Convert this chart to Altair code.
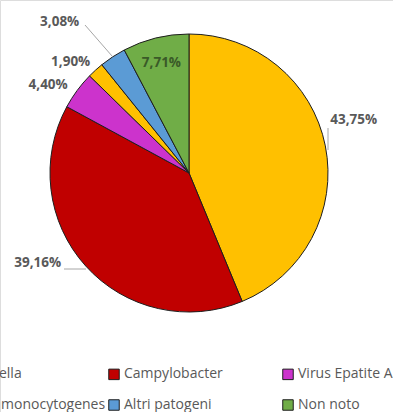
import altair as alt
import pandas as pd

categories = ["Salmonella", "Campylobacter", "Virus Epatite A",
              "Listeria monocytogenes", "Altri patogeni", "Non noto"]
values = [43.75, 39.16, 4.40, 1.90, 3.08, 7.71]
labels = ["43,75%", "39,16%", "4,40%", "1,90%", "3,08%", "7,71%"]
colors = ["#FFC000", "#C00000", "#CC33CC", "#FFC000", "#5B9BD5", "#70AD47"]

df = pd.DataFrame({"cat": categories, "val": values, "lab": labels,
                   "ord": list(range(len(categories)))})

# legend is filled column by column: reorder domain so rows read like the original
leg_order = [0, 3, 1, 4, 2, 5]
leg_domain = [categories[i] for i in leg_order]
leg_range = [colors[i] for i in leg_order]

CX, CY, R = 189, 173, 139

pie = alt.Chart(df).mark_arc(radius=R, stroke="#1e1e1e", strokeWidth=1).encode(
    theta=alt.Theta("val:Q", stack=True, scale=alt.Scale(domain=[0, 100])),
    order=alt.Order("ord:Q"),
    x=alt.value(CX), y=alt.value(CY),
    color=alt.Color(
        "cat:N",
        scale=alt.Scale(domain=leg_domain, range=leg_range),
        sort=leg_domain,
        legend=alt.Legend(
            title=None, orient="none", legendX=-67, legendY=367,
            columns=3, gridAlign="all", columnPadding=0, rowPadding=15,
            symbolType="square", symbolSize=110, symbolStrokeColor="#1e1e1e",
            symbolStrokeWidth=1, labelFont="Open Sans", labelFontSize=14,
            labelColor="#595959", labelOffset=3, labelLimit=300,
        ),
    ),
)

# per-label placement (radius, dx, dy, colour) as in the original
offsets = {
    "Salmonella": (170, -2, -20, "#595959"),
    "Campylobacter": (170, -25, -24, "#595959"),
    "Virus Epatite A": (170, -4, 13, "#595959"),
    "Listeria monocytogenes": (170, -4, 15, "#595959"),
    "Altri patogeni": (170, -36, -9, "#595959"),
    "Non noto": (115, 0, 2, "#3A5A28"),
}

text_base = alt.Chart(df).transform_window(
    cum="sum(val)", sort=[alt.SortField("ord")], frame=[None, 0]
).transform_calculate(mid="datum.cum - datum.val / 2")

layers = [pie]
for cat, (rad, dx, dy, col) in offsets.items():
    layers.append(
        text_base.mark_text(radius=rad, dx=dx, dy=dy, font="Open Sans", fontSize=13.5,
                            fontWeight="bold", color=col, align="center",
                            baseline="middle")
        .encode(theta=alt.Theta("mid:Q", stack=None), text="lab:N",
                x=alt.value(CX), y=alt.value(CY))
        .transform_filter(alt.datum.cat == cat)
    )

lead_df = pd.DataFrame({"x": [328, 64, 85], "y": [128, 269, 25],
                        "x2": [328, 86, 112], "y2": [150, 269, 56]})
leaders = alt.Chart(lead_df).mark_rule(color="#A6A6A6", strokeWidth=1).encode(
    x=alt.X("x:Q", scale=None), y=alt.Y("y:Q", scale=None),
    x2="x2:Q", y2="y2:Q",
)
layers.append(leaders)

chart = alt.layer(*layers).properties(
    width=393, height=412, padding=0,
    autosize=alt.AutoSizeParams(type="none"),
).configure_view(stroke=None).configure(background="white")

chart.save("out.html", embed_options={"renderer": "svg", "actions": False})
